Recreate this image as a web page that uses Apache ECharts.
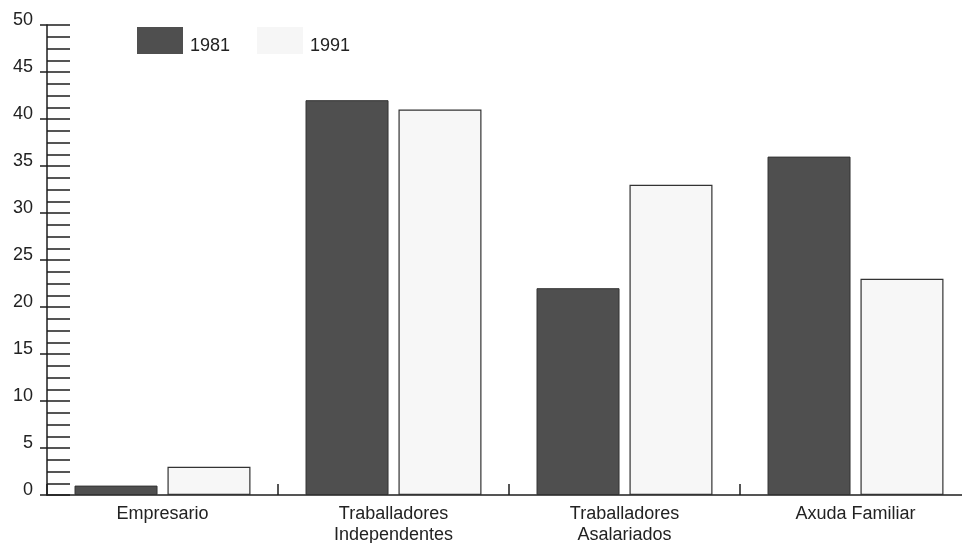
<!DOCTYPE html>
<html>
<head>
<meta charset="utf-8">
<script src="https://cdn.jsdelivr.net/npm/echarts@6/dist/echarts.min.js"></script>
<style>
html,body{margin:0;padding:0;background:#fff;}
#chart{width:962px;height:543px;}
</style>
</head>
<body>
<div id="chart"></div>
<script>
var categories = ['Empresario', 'Traballadores\nIndependentes', 'Traballadores\nAsalariados', 'Axuda Familiar'];
var seriesNames = ['1981', '1991'];
var values1981 = [1, 42, 22, 36];
var values1991 = [3, 41, 33, 23];
var yMin = 0, yMax = 50, yInterval = 5;

var chart = echarts.init(document.getElementById('chart'));
var axisColor = '#1e1e1e';
var textColor = '#222';
var font = 'Liberation Sans, Arial, sans-serif';
chart.setOption({
  animation: false,
  backgroundColor: '#fff',
  grid: {left: 47, top: 25, height: 470, width: 924, containLabel: false, outerBoundsMode: 'none'},
  legend: {
    left: 132, top: 22,
    icon: 'rect',
    itemWidth: 46, itemHeight: 27, itemGap: 27,
    formatter: '{t|{name}}',
    textStyle: {
      fontFamily: font, fontSize: 18, color: textColor,
      rich: {t: {fontFamily: font, fontSize: 18, color: textColor, padding: [12, 0, 0, 2]}}
    },
    data: [
      {name: seriesNames[0], itemStyle: {borderWidth: 0}},
      {name: seriesNames[1], itemStyle: {borderWidth: 0, color: '#f6f6f6'}}
    ]
  },
  xAxis: {
    type: 'category',
    data: categories,
    axisLine: {lineStyle: {color: axisColor, width: 1.5}},
    axisTick: {show: true, inside: true, length: 11, lineStyle: {color: axisColor, width: 1.5}},
    axisLabel: {fontFamily: font, fontSize: 18, color: textColor, margin: 9, lineHeight: 21}
  },
  yAxis: [{
    type: 'value',
    min: yMin, max: yMax, interval: yInterval,
    splitLine: {show: false},
    axisLine: {show: true, lineStyle: {color: axisColor, width: 1.5}},
    axisTick: {show: true, inside: true, length: 23, lineStyle: {color: axisColor, width: 1.5}},
    minorTick: {show: true, splitNumber: 4, length: 23, lineStyle: {color: axisColor, width: 1.5}},
    axisLabel: {fontFamily: font, fontSize: 18, color: textColor, margin: 14, verticalAlign: 'bottom', lineHeight: 9}
  }, {
    type: 'value', position: 'left',
    min: yMin, max: yMax, interval: yInterval,
    splitLine: {show: false},
    axisLine: {show: false},
    axisTick: {show: true, inside: false, length: 7, lineStyle: {color: axisColor, width: 1.5}},
    axisLabel: {show: false}
  }],
  series: [{
    name: seriesNames[0], type: 'bar', data: values1981,
    barWidth: 83, barGap: '12%',
    itemStyle: {color: '#4f4f4f', borderColor: '#333', borderWidth: 1}
  }, {
    name: seriesNames[1], type: 'bar', data: values1991,
    barWidth: 83, barGap: '12%',
    itemStyle: {color: '#f7f7f7', borderColor: '#333', borderWidth: 1.2}
  }]
});
</script>
</body>
</html>
